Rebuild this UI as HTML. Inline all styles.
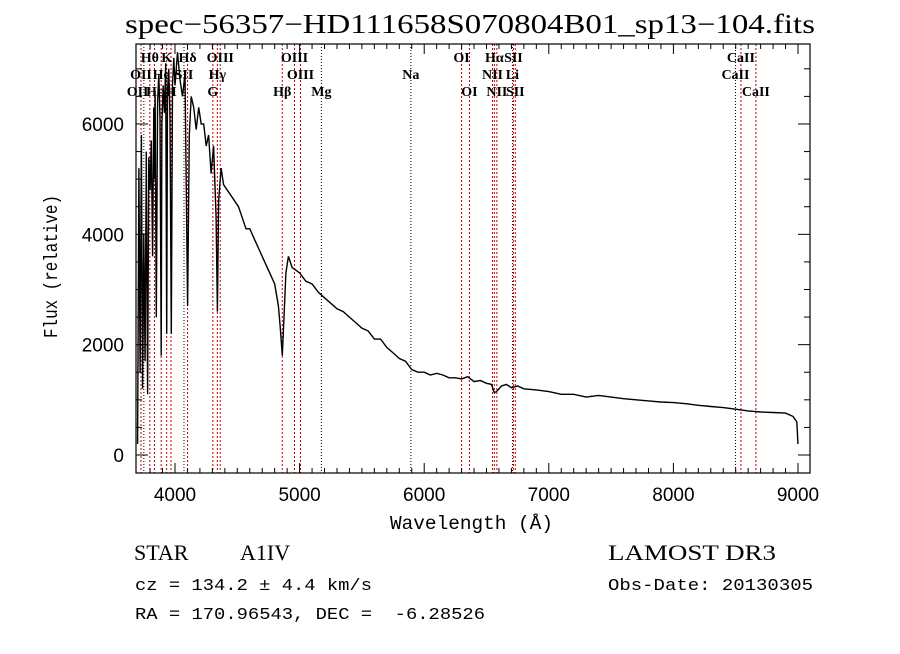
<!DOCTYPE html>
<html><head><meta charset="utf-8"><style>
body{margin:0;background:#fff;width:900px;height:649px;overflow:hidden}
svg text{fill:#000}
</style></head><body>
<svg width="900" height="649" viewBox="0 0 900 649">
<rect width="900" height="649" fill="#fff"/>
<text x="125" y="33" textLength="690" lengthAdjust="spacingAndGlyphs" font-family="Liberation Serif, serif" font-size="27">spec−56357−HD111658S070804B01_sp13−104.fits</text>
<g id="lines"></g>
<g id="spec"></g>
<rect x="136" y="44" width="674" height="429" fill="none" stroke="#000" stroke-width="1.2"/>
<g id="axes"></g>
<text x="390" y="529" textLength="163" lengthAdjust="spacingAndGlyphs" font-family="Liberation Mono, monospace" font-size="19">Wavelength (Å)</text>
<text transform="translate(57,338) rotate(-90)" textLength="143" lengthAdjust="spacingAndGlyphs" font-family="Liberation Mono, monospace" font-size="19">Flux (relative)</text>
<text x="134" y="560" font-family="Liberation Serif, serif" font-size="22">STAR</text>
<text x="240" y="560" font-family="Liberation Serif, serif" font-size="22">A1IV</text>
<text x="608" y="560" textLength="168" lengthAdjust="spacingAndGlyphs" font-family="Liberation Serif, serif" font-size="22">LAMOST DR3</text>
<text x="135" y="590" textLength="237" lengthAdjust="spacingAndGlyphs" font-family="Liberation Mono, monospace" font-size="17">cz = 134.2 ± 4.4 km/s</text>
<text x="608" y="590" textLength="205" lengthAdjust="spacingAndGlyphs" font-family="Liberation Mono, monospace" font-size="17">Obs-Date: 20130305</text>
<text x="135" y="619" textLength="350" lengthAdjust="spacingAndGlyphs" font-family="Liberation Mono, monospace" font-size="17" xml:space="preserve">RA = 170.96543, DEC =  -6.28526</text>
</svg>
<script>
const wavelengths=[3700,3710,3720,3730,3740,3750,3760,3770,3780,3790,3800,3810,3820,3830,3835,3840,3850,3860,3870,3880,3889,3895,3905,3915,3925,3933,3940,3950,3960,3970,3980,3990,4000,4020,4040,4060,4080,4101,4115,4130,4150,4170,4190,4210,4230,4250,4270,4290,4310,4330,4340,4350,4370,4390,4420,4450,4480,4510,4540,4570,4600,4640,4680,4720,4760,4800,4830,4845,4861,4875,4890,4910,4940,4970,5000,5050,5100,5150,5200,5250,5300,5350,5400,5450,5500,5550,5600,5650,5700,5750,5800,5850,5900,5950,6000,6050,6100,6150,6200,6250,6300,6350,6400,6450,6500,6540,6563,6580,6620,6660,6700,6750,6800,6900,7000,7100,7200,7300,7400,7500,7600,7700,7800,7900,8000,8100,8200,8300,8400,8500,8600,8700,8800,8900,8960,8990,9000];
const fluxes=[200,5200,1500,5800,1200,4000,1700,5500,1100,5400,4800,5700,3600,6300,5000,6600,2500,6400,6900,6100,1800,6000,6700,6200,7100,2200,6600,7000,6100,2200,6700,7200,6700,7300,6800,6500,6900,2700,5800,6500,6300,5900,6300,6000,6000,5600,5800,5100,5600,4300,2600,4600,5200,4900,4800,4700,4600,4500,4300,4100,4100,3900,3700,3500,3300,3100,2700,2300,1800,2500,3300,3600,3400,3350,3300,3150,3100,2950,2850,2750,2650,2600,2500,2400,2300,2250,2100,2100,1950,1850,1750,1700,1550,1500,1500,1450,1480,1450,1400,1400,1380,1420,1330,1350,1300,1280,1130,1150,1250,1280,1220,1250,1200,1180,1150,1100,1100,1050,1080,1050,1020,1000,980,960,950,930,900,880,860,830,800,780,770,760,700,600,200];
const xTicks=[4000,5000,6000,7000,8000,9000];
const yTicks=[0,2000,4000,6000];
const redLines=[3727,3798,3835,3889,3933,3968,4101,4304,4340,4363,4861,4959,5007,6300,6363,6548,6563,6583,6716,6731,8542,8662];
const blackLines=[3750,4072,5175,5893,6708,8498];
const lineLabels=[["Hθ",3798,1],["K",3933,1],["Hδ",4101,1],["OIII",4363,1],["OIII",4959,1],["OI",6300,1],["Hα",6563,1],["SII",6716,1],["CaII",8542,1],
["OII",3727,2],["He",3889,2],["SII",4072,2],["Hγ",4340,2],["OIII",5007,2],["Na",5893,2],["NII",6548,2],["Li",6708,2],["CaII",8498,2],
["OII",3700,3],["Hε",3835,3],["H",3968,3],["G",4304,3],["Hβ",4861,3],["Mg",5175,3],["OI",6363,3],["NII",6583,3],["SII",6731,3],["CaII",8662,3]];
const X=w=>175+(w-4000)*0.1246;
const Y=f=>455-f*0.05517;
const NS="http://www.w3.org/2000/svg";
function mk(t,a,p){const e=document.createElementNS(NS,t);for(const k in a)e.setAttribute(k,a[k]);p.appendChild(e);return e;}
const L=document.getElementById('lines');
redLines.forEach(w=>{const e=mk('line',{x1:X(w),x2:X(w),y1:44,y2:473,stroke:'#c00000','stroke-dasharray':'2,2','stroke-width':1},L);

});
blackLines.forEach(w=>{const e=mk('line',{x1:X(w),x2:X(w),y1:44,y2:473,stroke:'#000','stroke-dasharray':'1,2','stroke-width':1},L);

});
lineLabels.forEach(([t,w,r])=>{const e=mk('text',{x:X(w),y:[0,62,79,96][r],'text-anchor':'middle','font-family':'Liberation Serif, serif','font-size':14,'font-weight':'bold'},L);e.textContent=t;

});
const S=document.getElementById('spec');
let d='';wavelengths.forEach((w,i)=>{d+=(i?'L':'M')+X(w).toFixed(1)+','+Y(fluxes[i]).toFixed(1);});
const p=mk('path',{d:d,fill:'none',stroke:'#000','stroke-width':1.4},S);


const A=document.getElementById('axes');
for(let w=3800;w<=9000;w+=100){const maj=w%1000===0;mk('line',{x1:X(w),x2:X(w),y1:473,y2:473-(maj?10:5),stroke:'#000'},A);mk('line',{x1:X(w),x2:X(w),y1:44,y2:44+(maj?10:5),stroke:'#000'},A);}
xTicks.forEach(w=>{const e=mk('text',{x:X(w),y:501,'text-anchor':'middle','font-family':'Liberation Sans, sans-serif','font-size':19},A);e.textContent=w;

});
for(let f=0;f<=7500;f+=500){const maj=f%2000===0;if(Y(f)<44)break;mk('line',{x1:136,x2:136+(maj?12:6),y1:Y(f),y2:Y(f),stroke:'#000'},A);mk('line',{x1:810,x2:810-(maj?12:6),y1:Y(f),y2:Y(f),stroke:'#000'},A);}
yTicks.forEach(f=>{const e=mk('text',{x:124,y:Y(f)+7,'text-anchor':'end','font-family':'Liberation Sans, sans-serif','font-size':19},A);e.textContent=f;

});
</script>
</body></html>
